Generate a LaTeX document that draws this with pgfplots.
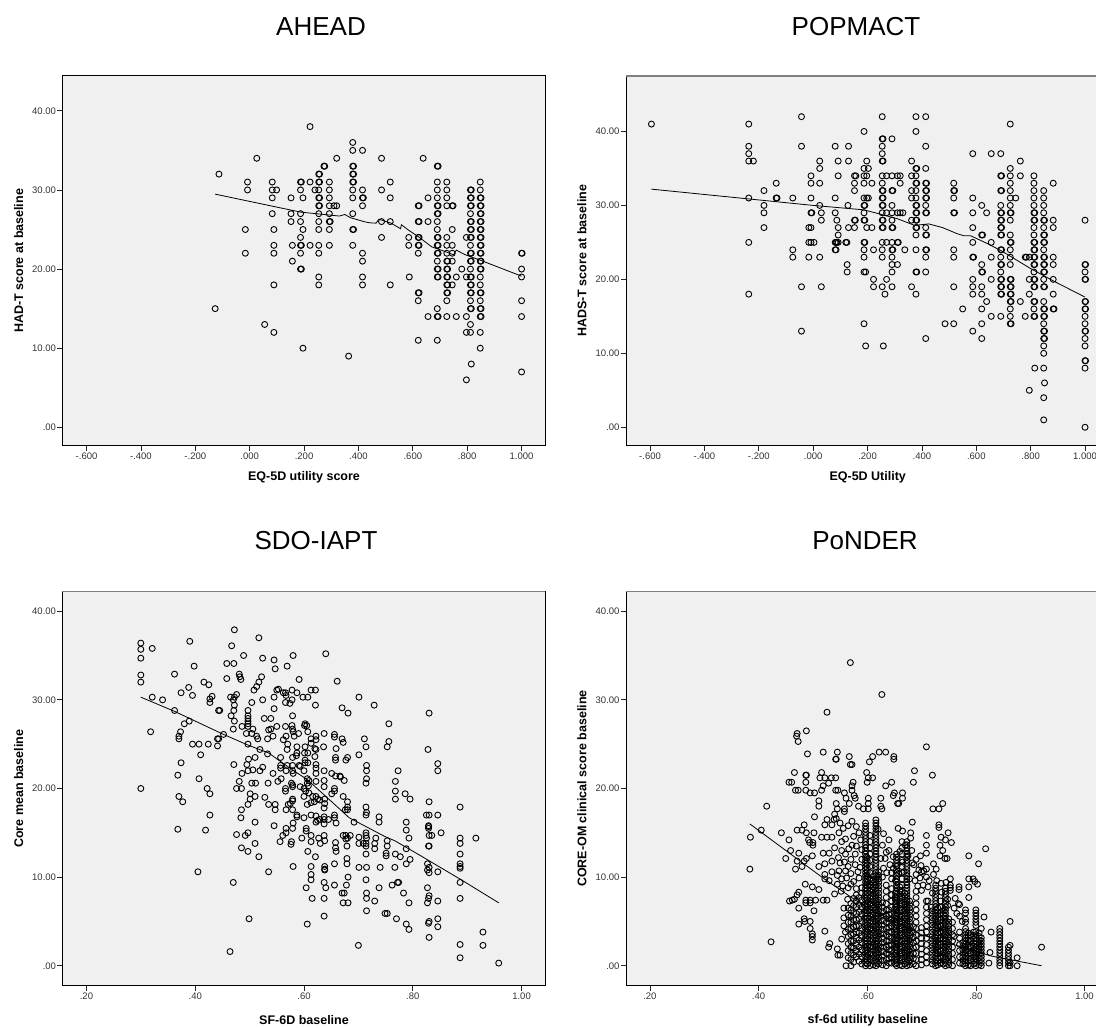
\documentclass[border=0pt]{standalone}
\usepackage{pgfplots}
\pgfplotsset{compat=1.18}
\usepackage{fontspec}
\setmainfont{Liberation Sans}
\definecolor{bgc}{HTML}{F0F0F0}
\pgfplotsset{spss/.style={scale only axis,enlargelimits=false,
 axis background/.style={fill=bgc},
 axis line style={line width=1pt,black},
 tick align=outside,major tick length=5pt,xtick pos=lower,ytick pos=left,
 tick style={black!85,line width=.7pt},
 tick label style={font=\fontsize{9.5}{11}\selectfont,black!80},
 every axis x label/.style={at={(axis description cs:.5,-.0866)},anchor=center,font=\bfseries\fontsize{12.5}{14}\selectfont},
 every axis y label/.style={at={(axis description cs:-.091,.5)},anchor=center,rotate=90,font=\bfseries\fontsize{12.5}{14}\selectfont},
 xticklabel style={yshift=1pt},yticklabel style={xshift=2pt},
 ytick={0,10,20,30,40},yticklabels={.00,10.00,20.00,30.00,40.00}},
 eq/.style={spss,width=483pt,height=369.7pt,xmin=-.6885,xmax=1.088,xtick={-.6,-.4,-.2,0,.2,.4,.6,.8,1},xticklabels={-.600,-.400,-.200,.000,.200,.400,.600,.800,1.000}},
 sf/.style={spss,width=483pt,height=394pt,xmin=.156,xmax=1.044,xtick={.2,.4,.6,.8,1},xticklabels={.20,.40,.60,.80,1.00}},
 pts/.style={only marks,mark=o,mark size=3pt,mark options={line width=.9pt,black}},
 fit/.style={no marks,black,line width=.8pt},
 greybox/.style={after end axis/.code={\draw[line width=1.6pt,black!50] (rel axis cs:0,1)--(rel axis cs:1,1);}}}
\begin{document}
\begin{tikzpicture}
\path[use as bounding box,clip] (0,0) rectangle (1096pt,1028pt);
\node[font=\fontsize{26}{29}\selectfont] at (321pt,1001pt) {AHEAD};
\node[font=\fontsize{26}{29}\selectfont] at (856pt,1001pt) {POPMACT};
\node[font=\fontsize{26}{29}\selectfont] at (316pt,487pt) {SDO-IAPT};
\node[font=\fontsize{26}{29}\selectfont] at (865pt,487pt) {PoNDER};
% ---------- AHEAD
\begin{axis}[eq,at={(62.5pt,582.3pt)},ymin=-2.32,ymax=44.4,xlabel={EQ-5D utility score},ylabel={HAD-T score at baseline}]
\addplot[pts] coordinates {(-.127,15)(-.113,32)(-.016,25)(-.016,22)(-.008,31)(-.008,30)(.026,34)(.055,13)
(.083,31)(.083,30)(.083,29)(.083,27)(.089,25)(.089,23)(.089,22)(.089,18)(.089,12)(.099,30)
(.152,29)(.152,27)(.152,26)(.157,23)(.157,21)
(.187,31)(.19,31)(.187,30)(.187,27)(.187,26)(.187,24)(.187,23)(.19,23)(.187,22)(.187,20)(.19,20)(.196,29)(.196,25)(.196,10)(.222,38)(.222,31)(.222,23)(.24,30)
(.254,32)(.257,32)(.254,31)(.257,31)(.254,30)(.254,29)(.257,29)(.254,28)(.257,28)(.254,27)(.254,26)(.254,25)(.254,23)(.254,22)(.254,19)(.254,18)
(.273,33)(.276,33)(.293,31)(.293,30)(.293,29)(.293,28)(.293,27)(.293,26)(.296,26)(.293,25)(.293,23)(.31,28)(.32,34)(.32,28)
(.364,9)(.379,36)(.379,35)(.379,33)(.382,33)(.379,32)(.382,32)(.379,31)(.382,31)(.379,30)(.379,29)(.379,27)(.379,25)(.382,25)(.379,23)
(.415,35)(.415,30)(.415,29)(.418,29)(.415,28)(.415,22)(.415,21)(.415,19)(.415,18)
(.485,34)(.485,30)(.485,26)(.485,24)(.517,31)(.517,29)(.517,26)(.517,18)
(.585,24)(.585,23)(.587,19)(.62,28)(.623,28)(.62,26)(.623,26)(.62,24)(.623,24)(.62,23)(.623,23)(.62,22)(.62,17)(.623,17)(.62,16)(.62,11)(.638,34)(.656,29)(.656,26)(.656,14)
(.69,33)(.693,33)(.69,31)(.69,30)(.69,29)(.69,28)(.693,28)(.69,27)(.693,27)(.69,26)(.69,25)(.69,24)(.693,24)(.69,23)(.693,23)(.69,22)(.693,22)(.69,21)(.69,20)(.693,20)(.69,19)(.693,19)(.69,15)(.69,14)(.693,14)(.69,11)
(.725,31)(.725,30)(.725,29)(.725,28)(.725,24)(.725,23)(.725,22)(.725,21)(.728,21)(.725,20)(.728,20)(.725,19)(.728,19)(.725,18)(.728,18)(.725,17)(.728,17)(.725,16)(.725,14)
(.745,28)(.748,28)(.745,25)(.745,23)(.745,22)(.745,21)(.745,18)(.76,19)(.76,14)(.78,20)(.797,24)(.797,19)(.797,14)(.797,12)(.797,6)
(.812,30)(.815,30)(.812,29)(.815,29)(.812,28)(.815,28)(.812,27)(.812,26)(.815,26)(.812,25)(.815,25)(.812,24)(.815,24)(.812,23)(.812,22)(.815,22)(.812,21)(.815,21)(.812,20)(.812,19)(.815,19)(.812,18)(.815,18)(.812,17)(.815,17)(.812,16)(.812,15)(.815,15)(.812,13)(.812,12)(.815,8)
(.848,31)(.848,30)(.848,29)(.851,29)(.848,28)(.851,28)(.848,27)(.851,27)(.848,26)(.851,26)(.848,25)(.851,25)(.848,24)(.851,24)(.848,23)(.851,23)(.848,22)(.851,22)(.848,21)(.851,21)(.848,20)(.851,20)(.848,19)(.848,18)(.848,17)(.851,17)(.848,16)(.848,15)(.851,15)(.848,14)(.851,14)(.848,12)(.848,10)
(1,22)(1.002,22)(1,20)(1,19)(1,16)(1,14)(1,7)};
\addplot[fit] coordinates {(-.127,29.47)(.187,27.2)(.33,26.7)(.35,26.9)(.37,26.5)(.42,26)(.44,25.85)(.465,25.8)(.475,26.3)(.52,25.8)(.555,25.1)(.558,25.6)(.585,24.9)(.62,24.1)(.67,22.8)(.72,22.2)(.75,21.8)(.76,22.4)(.79,21.85)(.85,21.1)(1,19.1)};
\end{axis}
% ---------- POPMACT
\begin{axis}[eq,greybox,width=483.5pt,xmax=1.09,at={(626pt,582.3pt)},ymin=-2.49,ymax=47.5,xlabel={EQ-5D Utility},ylabel={HADS-T score at baseline}]
\addplot[pts] coordinates {(-.595,41)(-.237,41)(-.237,38)(-.237,37)(-.237,36)(-.237,31)(-.237,25)(-.237,18)(-.22,36)
(-.181,32)(-.181,30)(-.181,29)(-.181,27)(-.136,33)(-.136,31)(-.133,31)(-.075,31)(-.075,24)(-.075,23)(-.043,42)(-.043,38)(-.043,19)(-.043,13)
(-.016,27)(-.016,25)(-.016,23)(-.008,34)(-.008,33)(-.008,31)(-.008,29)(-.005,29)(-.008,27)(-.008,25)(.003,25)(.024,36)(.024,35)(.024,33)(.024,30)(.024,23)(.03,29)(.03,28)(.03,19)
(.081,38)(.081,31)(.081,29)(.081,25)(.084,25)(.081,24)(.084,24)(.087,28)(.087,25)(.092,36)(.092,34)(.092,27)(.092,26)(.092,25)
(.128,30)(.13,38)(.13,36)(.13,27)(.12,25)(.124,25)(.125,22)(.125,21)(.152,34)(.152,33)(.152,32)(.152,28)(.155,28)(.152,27)(.157,34)
(.187,40)(.187,35)(.187,34)(.187,33)(.187,31)(.187,30)(.19,30)(.187,29)(.187,28)(.19,28)(.187,25)(.19,25)(.187,24)(.187,23)(.187,21)(.187,14)(.193,21)(.193,11)(.197,36)(.197,34)(.197,31)(.197,27)(.203,35)(.203,31)(.216,33)(.216,27)(.222,24)(.222,20)(.222,19)
(.254,42)(.254,39)(.257,39)(.254,38)(.254,37)(.254,36)(.257,36)(.254,34)(.254,33)(.254,32)(.257,32)(.254,31)(.257,31)(.254,30)(.257,30)(.254,29)(.254,28)(.257,28)(.254,27)(.257,27)(.254,25)(.254,24)(.254,23)(.254,19)(.258,11)(.264,18)
(.27,34)(.27,29)(.27,25)(.27,20)(.29,39)(.29,34)(.29,32)(.293,32)(.29,30)(.29,29)(.29,28)(.29,27)(.293,27)(.29,25)(.29,24)(.293,24)(.29,23)(.29,22)(.29,21)(.29,19)
(.31,34)(.31,29)(.31,25)(.313,25)(.31,22)(.32,34)(.32,33)(.32,29)(.33,29)(.337,24)
(.362,36)(.362,34)(.362,32)(.362,31)(.362,28)(.362,19)(.378,42)(.378,40)(.378,35)(.381,35)(.378,34)(.378,33)(.381,33)(.378,32)(.378,31)(.378,30)(.381,30)(.378,29)(.381,29)(.378,28)(.381,28)(.378,27)(.381,27)(.378,26)(.378,24)(.378,21)(.381,21)(.378,18)
(.414,42)(.414,38)(.414,35)(.414,33)(.417,33)(.414,32)(.417,32)(.414,31)(.417,31)(.414,30)(.414,29)(.417,29)(.414,27)(.414,26)(.417,26)(.414,24)(.417,24)(.414,23)(.414,21)(.414,12)
(.485,14)(.517,33)(.517,32)(.52,32)(.517,31)(.517,29)(.52,29)(.517,24)(.517,23)(.517,19)(.517,14)(.55,16)
(.587,37)(.587,31)(.587,29)(.587,27)(.587,25)(.587,23)(.59,23)(.587,20)(.587,19)(.587,18)(.587,13)
(.62,30)(.62,26)(.623,26)(.62,22)(.62,21)(.623,21)(.62,19)(.62,18)(.62,16)(.62,14)(.62,12)(.638,29)(.638,17)(.655,37)(.655,25)(.655,23)(.655,20)(.655,15)
(.69,37)(.69,34)(.693,34)(.69,32)(.693,32)(.69,30)(.69,29)(.693,29)(.69,28)(.693,28)(.69,27)(.693,27)(.69,26)(.693,26)(.69,24)(.693,24)(.69,23)(.69,22)(.693,22)(.69,21)(.69,20)(.693,20)(.69,19)(.693,19)(.69,18)(.693,18)(.69,15)
(.725,41)(.725,35)(.725,34)(.725,33)(.725,32)(.725,31)(.725,30)(.725,29)(.728,29)(.725,28)(.725,26)(.725,25)(.728,25)(.725,24)(.725,23)(.725,22)(.725,20)(.728,20)(.725,19)(.728,19)(.725,18)(.728,18)(.725,17)(.728,17)(.725,16)(.725,15)(.725,14)(.728,14)
(.745,31)(.762,36)(.762,34)(.762,17)(.78,23)(.784,23)(.78,15)(.795,23)(.795,20)(.795,18)(.795,5)
(.812,34)(.812,33)(.812,32)(.812,31)(.812,30)(.812,29)(.815,29)(.812,28)(.815,28)(.812,27)(.812,26)(.812,25)(.815,25)(.812,24)(.815,24)(.812,23)(.815,23)(.812,22)(.815,22)(.812,21)(.812,20)(.815,20)(.812,19)(.815,19)(.812,17)(.815,17)(.812,16)(.812,15)(.815,15)(.815,8)
(.848,32)(.848,31)(.848,30)(.848,29)(.848,28)(.851,28)(.848,27)(.848,26)(.851,26)(.848,25)(.851,25)(.848,24)(.848,23)(.851,23)(.848,22)(.851,22)(.848,21)(.851,21)(.848,20)(.848,19)(.851,19)(.848,17)(.848,16)(.851,16)(.848,15)(.851,15)(.848,14)(.848,13)(.851,13)(.848,12)(.851,12)(.848,11)(.848,10)(.848,8)(.851,6)(.848,4)(.848,1)
(.883,33)(.883,28)(.883,27)(.883,23)(.883,22)(.883,20)(.883,18)(.883,16)(.886,16)
(1,28)(1,22)(1.002,22)(1,21)(1,20)(1.002,20)(1,17)(1.002,17)(1,16)(1.002,16)(1,15)(1,14)(1,13)(1.002,13)(1,12)(1,11)(1,9)(1.002,9)(1,8)(1,0)};
\addplot[fit] coordinates {(-.595,32.2)(0,30)(.187,29.4)(.31,28.2)(.373,27.3)(.425,27.5)(.476,27)(.528,26.2)(.553,25.9)(.579,25.9)(.643,24.8)(.695,23.8)(.798,21.5)(.888,19.7)(1,17.6)};
\end{axis}
% ---------- SDO-IAPT
\begin{axis}[sf,greybox,at={(62.5pt,42.3pt)},ymin=-2.25,ymax=42.2,xlabel={SF-6D baseline},ylabel={Core mean baseline}]
\addplot[pts] coordinates {(.3,36.4)(.3,35.7)(.3,34.7)(.3,32.8)(.3,32)(.321,35.8)(.321,30.3)(.34,30)(.318,26.4)(.3,20)(.39,36.6)(.398,33.8)(.362,32.9)(.388,31.4)(.374,30.8)(.395,30.5)(.362,28.8)(.416,32)(.425,31.7)(.431,30.4)(.427,30.1)(.427,29.7)(.443,28.8)(.445,28.8)(.389,27.6)(.38,27.3)(.373,26.4)(.37,25.9)(.37,25.6)(.395,25)(.407,25)(.424,25)(.41,23.8)(.441,25.6)(.441,24.8)(.452,26.1)(.443,25.6)(.374,22.9)(.368,21.5)(.407,21.1)(.422,20)(.427,19.4)(.37,19.1)(.377,18.5)(.427,17)(.368,15.4)(.419,15.3)(.405,10.6)
(.458,34.1)(.467,36.1)(.472,37.9)(.471,34.1)(.489,35)(.458,32.4)(.481,32.9)(.482,32.6)(.484,32.3)(.465,30.3)(.47,30)(.476,30.6)(.472,30.3)(.472,29.4)(.471,28.8)(.466,28.2)(.472,27.6)(.47,26.7)(.486,27)(.497,28.8)(.497,28.2)(.497,27.9)(.497,27.6)(.497,27.3)(.497,27)(.494,26.2)(.504,29.7)(.504,26.2)(.508,31.1)(.506,26.7)(.513,25.9)(.515,25.6)(.513,31.5)(.517,32)(.522,32.6)(.524,34.7)(.517,37)(.524,30)(.497,25)(.519,24.4)(.527,27.9)(.539,27.9)(.535,26.6)(.539,26.7)(.533,25.6)(.543,25.9)(.533,23.9)(.55,27)(.545,29)(.545,30.3)(.547,33.5)(.545,34.5)(.55,31.1)(.553,31.2)
(.498,23.3)(.51,23.5)(.495,22.7)(.471,22.7)(.497,22)(.506,22.1)(.519,22)(.524,22.4)(.486,21.7)(.481,20.8)(.476,20)(.485,20)(.504,20.6)(.511,20.6)(.534,20.6)(.543,21.7)(.501,19.4)(.501,18.8)(.51,19.1)(.528,19)(.497,18.2)(.535,18.2)(.547,18.2)(.547,17.6)(.485,17.6)(.484,16.7)(.51,16.2)(.545,15.8)(.476,14.8)(.492,14.7)(.497,15)(.485,13.3)(.497,12.9)(.51,13.8)(.517,12.3)(.535,10.6)(.47,9.4)(.499,5.3)(.464,1.6)
(.569,33.8)(.58,35)(.591,32.3)(.64,35.2)(.661,32.1)(.613,31.1)(.621,31.1)(.562,30.8)(.566,30.8)(.567,30.5)(.578,31.1)(.587,30.8)(.578,30)(.598,30.3)(.607,30.3)(.621,29.4)(.566,29.7)(.574,29.6)(.579,28.2)(.566,27)(.578,27.1)(.579,26.7)(.601,27.1)(.602,27.3)(.605,27.1)(.607,26.4)(.59,26.2)(.58,26.4)(.582,25.9)(.562,25.5)(.567,25.9)(.57,25)(.569,24.4)(.587,24.7)(.587,24)(.586,23.7)(.602,24.7)(.607,24)(.613,25.6)(.613,25.1)(.622,25.9)(.622,25.5)(.62,24.5)(.622,24.4)(.62,23.6)(.601,24)(.602,23.2)(.602,22.9)(.607,22.9)(.557,23.5)(.579,23.5)(.557,22.6)(.557,22.3)(.569,22.6)(.579,22.6)(.591,22.6)(.567,22)(.579,22)(.58,21.7)(.552,20.8)(.558,21.1)(.593,22.5)(.6,22)(.622,22.7)(.622,22.3)(.622,21.7)
(.606,21.1)(.609,20.9)(.606,20.6)(.608,20.3)(.622,20.8)(.566,20)(.566,19.7)(.577,20.6)(.579,20.4)(.579,20.2)(.593,20.2)(.6,20)(.603,19.7)(.6,19.1)(.609,19.5)(.606,18.2)(.613,18.4)(.616,19.1)(.622,19.1)(.625,18.8)(.619,18.5)(.629,18.7)(.579,18.8)(.579,18.6)(.571,18.2)(.575,18.3)(.567,17.6)(.579,17.6)(.587,17)(.587,16.8)(.6,16.7)(.613,17)(.622,16.9)(.629,16.5)(.622,16.2)(.625,16.4)(.58,16.1)(.567,15.5)(.579,15.5)(.567,15)(.561,14.7)(.556,14)(.604,15.5)(.604,15.2)(.613,14.7)(.596,14.4)(.613,14)(.577,14)(.576,13.7)(.607,12.9)(.621,12.3)(.58,11.2)(.613,11.2)(.613,10.3)(.613,9.7)(.604,8.8)(.615,7.6)(.606,4.7)
(.637,26.2)(.636,24.7)(.637,22)(.637,20.9)(.637,20.2)(.638,18.8)(.638,18.3)(.637,17.8)(.637,16.8)(.637,16.5)(.637,16)(.645,16.5)(.637,14.7)(.627,14.4)(.63,13.8)(.638,14.1)(.638,11.2)(.638,10.9)(.638,10.8)(.637,9.4)(.64,8.8)(.637,7.6)(.637,5.6)(.656,26.1)(.656,25.8)(.659,24.5)(.658,23.5)(.658,23.2)(.651,21.7)(.658,21.4)(.666,21.4)(.656,20)(.656,19.7)(.651,19.4)(.656,17)(.656,16.7)(.659,16.1)(.658,13.9)(.658,13.3)(.659,12.9)(.656,11.5)(.656,9.1)
(.67,29.1)(.681,28.5)(.67,25.6)(.672,25.2)(.68,23.5)(.677,23.2)(.667,21.3)(.674,20.9)(.672,19.1)(.68,18.5)(.68,17.9)(.676,17.6)(.68,17.6)(.672,14.7)(.677,14.7)(.68,14.4)(.685,14.7)(.677,14.3)(.679,13.5)(.679,12.1)(.679,11.5)(.681,10)(.678,9.1)(.67,8.2)(.674,8.2)(.672,7.1)(.681,7.1)(.692,16.2)(.701,30.3)(.701,23.8)(.701,14.5)(.701,13.8)(.701,11.1)(.7,2.3)
(.711,25.6)(.714,24.7)(.715,22.6)(.715,22)(.715,21.1)(.714,20.6)(.714,17.9)(.715,17.3)(.714,17)(.714,15)(.714,14.7)(.715,14.4)(.709,13.8)(.714,13.8)(.714,13.5)(.714,12.6)(.715,11.1)(.714,9.7)(.715,8.2)(.715,7.6)(.715,6.2)(.729,29.4)(.738,16.8)(.738,16.2)(.732,14.4)(.73,13.8)(.73,13.2)(.74,11.1)(.738,8.8)(.73,7.3)
(.756,27.3)(.756,25.3)(.753,24.7)(.753,14.1)(.753,13.5)(.751,12.7)(.751,12.4)(.768,12.6)(.777,12.3)(.767,11.1)(.762,9.1)(.772,9.4)(.774,9.4)(.749,5.9)(.753,5.9)(.77,5.3)(.773,22)(.768,20.8)(.768,19.7)(.768,18.8)(.786,19.4)(.795,18.8)(.788,16.2)(.788,15.3)(.793,14.4)(.788,13.2)(.795,12)(.788,11.5)(.783,8.2)(.793,7.1)(.788,4.7)(.793,4.1)
(.83,28.5)(.828,24.4)(.846,22.8)(.846,22)(.83,18.5)(.825,17)(.83,17)(.846,17)(.829,15.8)(.829,15.7)(.829,15.5)(.83,14.7)(.835,14.7)(.852,15)(.829,13.5)(.83,13.5)(.827,11.5)(.83,11.1)(.827,10.8)(.83,10.5)(.846,10.6)(.827,8.8)(.83,7.9)(.829,7.6)(.827,7.1)(.846,7.3)(.83,5)(.829,4.8)(.846,5.3)(.846,4.4)(.83,3.2)
(.887,17.9)(.887,14.4)(.887,13.8)(.887,12.6)(.887,11.5)(.887,11.2)(.887,11)(.916,14.4)(.887,9.4)(.887,7.6)(.887,2.4)(.887,.9)(.929,3.8)(.929,2.3)(.958,.3)};
\addplot[fit] coordinates {(.3,30.3)(.362,28.7)(.452,26.1)(.497,24.9)(.535,24)(.574,22.3)(.606,21)(.651,18.5)(.683,16.7)(.748,14.6)(.767,14.1)(.812,12.5)(.889,9.7)(.958,7.1)};
\end{axis}
% ---------- PoNDER
\begin{axis}[sf,greybox,width=483.5pt,xmax=1.046,at={(626pt,42.3pt)},ymin=-2.25,ymax=42.2,xlabel={sf-6d utility baseline},ylabel={CORE-OM clinical score baseline}]
\addplot[pts] coordinates {(.569,34.2)(.627,30.6)(.526,28.6)(.488,26.5)(.471,26.2)(.47,25.9)(.473,25.3)(.49,23.9)(.519,24.1)(.545,24.1)(.542,23.3)(.543,23.3)(.567,23.6)(.569,22.7)(.572,22.7)(.622,24.1)(.634,24.1)(.61,23.6)(.604,23)(.649,23.6)(.649,23.3)(.709,24.7)
(.466,21.8)(.487,21.5)(.488,21.5)(.487,20.7)(.456,20.7)(.461,20.7)(.516,21.8)(.513,21.2)(.522,21.2)(.534,21.2)(.542,21.2)(.599,21.8)(.602,21.2)(.61,21.2)(.6,20.7)(.634,20.3)(.645,20.7)(.574,20.7)(.572,20.3)(.687,22)(.685,20.7)(.72,21.5)
(.468,19.8)(.473,19.8)(.487,19.8)(.495,19.5)(.503,19.5)(.516,19.8)(.519,20.3)(.529,20.6)(.542,19.8)(.546,19.8)(.558,19.5)(.561,18.9)(.572,19.8)(.576,19.2)(.578,18.9)(.567,18.3)(.65,19.5)(.648,19.2)(.665,19.5)(.665,18.9)(.658,18.3)(.656,18.3)(.415,18)(.511,18.6)(.511,18)(.503,16.8)(.739,18.3)(.732,17.7)(.721,17.7)(.625,18.9)(.625,18)(.627,17.7)(.584,18)(.593,17.7)(.602,18.9)(.602,18.3)(.602,17.7)(.543,18.3)(.545,17.7)(.54,17.1)(.558,17.7)(.558,17.4)
(.405,15.3)(.442,15)(.385,14.5)(.456,14.2)(.459,13)(.45,12.1)(.474,12.7)(.384,10.9)(.484,15.9)(.471,15.3)(.48,15.3)(.488,15)(.502,15)(.492,14.2)(.494,13.9)(.5,13.9)(.5,13.6)(.516,14.5)(.526,14.5)(.535,14.5)(.526,16.5)(.522,15.9)(.539,16.5)(.535,15.9)(.519,12.7)(.499,12.4)(.488,12.1)(.484,11.8)(.471,11.8)(.48,11.2)(.468,10.9)(.511,11.2)(.522,11.5)(.522,10.3)(.522,9.8)
(.486,9.2)(.499,8.9)(.511,8.6)(.474,8.3)(.471,8)(.466,7.5)(.457,7.3)(.462,7.4)(.487,7.4)(.495,7.4)(.505,7.4)(.519,7.4)(.526,7.4)(.487,7.1)(.495,7.1)(.502,6.2)(.474,6.5)(.484,5.3)(.485,5)(.474,4.7)(.495,5)(.495,4.2)(.499,3.6)(.499,3.3)(.499,2.9)(.423,2.7)(.522,3.9)(.531,2.5)(.529,2.1)(.545,1.9)(.55,1.2)(.546,1.2)(.561,0)
(.709,14.7)(.709,13.6)(.709,12.7)(.698,12.4)(.699,11.3)(.704,10.7)(.709,10.9)(.709,10)(.732,15.9)(.732,15.6)(.749,15)(.736,14.5)(.744,14.2)(.755,13.9)(.734,13.6)(.739,13)(.734,12.4)(.743,12.1)(.747,12.1)(.722,11.5)(.727,10.9)(.722,10.3)(.787,12.4)(.818,13.2)(.805,11.5)(.787,9.8)(.795,9.8)(.798,9.5)(.803,9.2)(.787,8.9)(.769,8.9)(.769,8.6)(.787,7.7)(.753,9.8)(.753,9.1)(.753,8.8)(.753,8.5)(.768,7)(.76,6.5)(.77,5.6)(.775,5)(.815,5.5)(.828,3.8)(.826,1.5)(.863,5)(.824,.3)(.876,.9)(.876,0)(.921,2.1)
(.54,13.3)(.547,12.2)(.53,12.7)(.55,11.6)(.535,11.8)(.553,14)(.56,14.3)(.566,13.2)(.575,14.6)(.56,12.6)(.57,12)(.58,13.5)(.578,11.4)(.548,10.7)(.56,10.7)(.57,10.4)(.585,15)(.59,13.1)(.587,11.1)(.535,10.6)(.53,9.6)(.545,9.2)(.555,9)(.565,8.8)(.575,9.5)(.585,9.9)(.54,8.1)(.552,8.4)(.564,7.5)
(.543,16.6)(.55,16.1)(.556,15.5)(.548,15)(.565,15.8)(.572,16.3)(.58,15.7)(.588,14.2)(.553,13)(.558,11.7)(.565,11.2)(.572,13.6)(.578,12.6)(.583,10.6)(.59,12)(.545,10.2)(.553,9.8)(.562,9.9)(.57,9.2)(.58,8.7)(.59,8.8)
(.62,15.4)(.63,14.9)(.628,13.6)(.64,14.2)(.635,12.8)(.625,12.1)(.642,11.4)(.63,11)(.648,12.3)(.655,11.3)(.66,12.9)(.645,10.5)(.652,9.6)(.665,11.7)(.668,10.6)(.675,12.4)(.682,13)(.683,16.2)(.68,15)(.68,14.4)(.69,12)(.686,11.4)(.695,10.8)(.678,9.8)(.688,9.6)(.697,9.9)(.665,15.2)(.657,15.5)(.67,13.6)(.7,8.5)(.712,8.9)(.712,7.3)(.718,6.6)(.72,8.2)(.736,9.3)(.748,7.5)(.748,6.8)(.76,3.3)
(.64,13)(.633,12.1)(.636,10.5)(.628,10)(.648,11)(.658,10.4)(.683,11.6)(.69,10.3)(.7,10.6)(.703,9.1)(.693,9)(.714,9.6)(.728,9.6)(.737,8.3)(.745,9.4)(.762,7.6)(.77,6.9)(.765,5.9)
(.57,0)(.57,.7)(.57,1.4)(.57,2.1)(.57,2.8)(.57,3.5)(.57,4.2)(.57,4.9)(.57,5.6)(.57,6.3)(.57,7)(.58,1)(.58,1.7)(.58,2.4)(.58,3.1)(.58,3.8)(.58,4.5)(.58,5.2)(.58,5.9)(.58,6.6)(.58,7.3)(.58,8)(.553,3)(.557,4.5)(.557,5.4)(.557,6.5)(.56,3.8)
(.565,.9)(.565,1.7)(.565,2.5)(.565,3.3)(.565,4.1)(.565,4.9)(.565,5.7)(.565,6.5)(.575,.4)(.575,1.2)(.575,2)(.575,2.8)(.575,3.6)(.575,4.4)(.575,5.2)(.575,6)(.575,6.8)(.575,7.6)(.585,.5)(.585,1.3)(.585,2.1)(.585,2.9)(.585,3.7)(.585,4.5)(.585,5.3)(.585,6.1)(.585,6.9)(.585,7.7)(.59,.2)(.59,1)(.59,1.8)(.59,2.6)(.59,3.4)(.59,4.2)(.59,5)(.59,5.8)(.59,6.6)(.59,7.4)(.59,8.2)
(.605,0)(.605,.7)(.605,1.4)(.605,2.1)(.605,2.8)(.605,3.5)(.605,4.2)(.605,4.9)(.605,5.6)(.605,6.3)(.605,7)(.605,7.7)(.605,8.4)(.605,9.1)(.605,9.8)(.605,10.5)(.605,11.2)(.605,11.9)(.605,12.6)(.605,13.3)(.605,14)(.605,14.7)
(.6,.2)(.6,.6)(.6,1)(.6,1.4)(.6,1.8)(.6,2.2)(.6,2.6)(.6,3)(.6,3.4)(.6,3.8)(.6,4.2)(.6,4.6)(.6,5)(.6,5.4)(.6,5.8)(.6,6.2)(.6,6.6)(.6,7)(.6,7.4)(.6,7.8)(.6,8.2)(.6,8.6)(.6,9)(.6,9.4)(.6,9.8)(.6,10.2)(.6,10.6)(.6,11)(.6,11.4)(.6,11.8)(.6,12.2)
(.611,.1)(.611,.5)(.611,.9)(.611,1.3)(.611,1.7)(.611,2.1)(.611,2.5)(.611,2.9)(.611,3.3)(.611,3.7)(.611,4.1)(.611,4.5)(.611,4.9)(.611,5.3)(.611,5.7)(.611,6.1)(.611,6.5)(.611,6.9)(.611,7.3)(.611,7.7)(.611,8.1)(.611,8.5)(.611,8.9)(.611,9.3)(.611,9.7)(.611,10.1)
(.621,.2)(.621,.6)(.621,1)(.621,1.4)(.621,1.8)(.621,2.2)(.621,2.6)(.621,3)(.621,3.4)(.621,3.8)(.621,4.2)(.621,4.6)(.621,5)(.621,5.4)(.621,5.8)(.621,6.2)(.621,6.6)(.621,7)(.621,7.4)(.621,7.8)(.621,8.2)(.621,8.6)(.621,9)(.621,9.4)(.621,9.8)(.621,10.2)(.621,10.6)
(.628,.1)(.628,.6)(.628,1.1)(.628,1.6)(.628,2.1)(.628,2.6)(.628,3.1)(.628,3.6)(.628,4.1)(.628,4.6)(.628,5.1)(.628,5.6)(.628,6.1)(.628,6.6)(.628,7.1)(.64,.3)(.64,.8)(.64,1.3)(.64,1.8)(.64,2.3)(.64,2.8)(.64,3.3)(.64,3.8)(.64,4.3)(.64,4.8)(.64,5.3)(.64,5.8)(.64,6.3)
(.635,0)(.635,.7)(.635,1.4)(.635,2.1)(.635,2.8)(.635,3.5)(.635,4.2)(.635,4.9)(.635,5.6)(.635,6.3)(.635,7)(.635,7.7)(.635,8.4)(.635,9.1)(.645,.3)(.645,1)(.645,1.7)(.645,2.4)(.645,3.1)(.645,3.8)(.645,4.5)(.645,5.2)(.645,5.9)(.645,6.6)(.645,7.3)(.645,8)(.645,8.7)(.645,9.8)
(.652,.2)(.652,.6)(.652,1)(.652,1.4)(.652,1.8)(.652,2.2)(.652,2.6)(.652,3)(.652,3.4)(.652,3.8)(.652,4.2)(.652,4.6)(.652,5)(.652,5.4)(.652,5.8)(.652,6.2)(.652,6.6)(.652,7)(.652,7.4)(.652,7.8)(.652,8.2)
(.66,.1)(.66,.5)(.66,.9)(.66,1.3)(.66,1.7)(.66,2.1)(.66,2.5)(.66,2.9)(.66,3.3)(.66,3.7)(.66,4.1)(.66,4.5)(.66,4.9)(.66,5.3)(.66,5.7)(.66,6.1)(.66,6.5)(.66,6.9)(.66,7.3)(.66,7.7)(.66,8.1)(.66,8.5)(.66,8.9)
(.664,0)(.664,.7)(.664,1.4)(.664,2.1)(.664,2.8)(.664,3.5)(.664,4.2)(.664,4.9)(.664,5.6)(.664,6.3)(.664,7)(.664,7.7)(.664,8.4)(.664,9.1)(.664,9.8)(.664,10.5)(.664,11.2)(.664,11.9)(.664,12.6)(.664,13.3)(.664,14)
(.669,.2)(.669,.6)(.669,1)(.669,1.4)(.669,1.8)(.669,2.2)(.669,2.6)(.669,3)(.669,3.4)(.669,3.8)(.669,4.2)(.669,4.6)(.669,5)(.669,5.4)(.669,5.8)(.669,6.2)(.669,6.6)(.669,7)(.669,7.4)(.669,7.8)(.669,8.2)
(.678,.1)(.678,.5)(.678,.9)(.678,1.3)(.678,1.7)(.678,2.1)(.678,2.5)(.678,2.9)(.678,3.3)(.678,3.7)(.678,4.1)(.678,4.5)(.678,4.9)(.678,5.3)(.678,5.7)(.678,6.1)(.678,6.5)(.678,6.9)(.678,7.3)
(.685,.2)(.685,.8)(.685,1.4)(.685,2)(.685,2.6)(.685,3.2)(.685,3.8)(.685,4.4)(.7,.1)(.7,.7)(.7,1.3)(.7,1.9)(.7,2.5)(.7,3.1)(.7,3.7)(.7,4.3)
(.69,0)(.69,.7)(.69,1.4)(.69,2.1)(.69,2.8)(.69,3.5)(.69,4.2)(.69,4.9)(.69,5.6)(.69,6.3)(.69,7)(.69,7.7)(.69,8.4)(.709,.3)(.709,1)(.709,1.7)(.709,2.4)(.709,3.1)(.709,3.8)(.709,4.5)(.709,5.2)(.709,5.9)(.709,6.6)(.709,7.3)(.735,.3)(.735,1)(.735,1.7)(.735,2.4)(.735,3.1)(.735,3.8)(.735,4.5)(.735,5.2)(.735,5.9)(.735,6.6)(.735,7.3)(.757,0)(.757,.7)(.757,1.4)(.757,2.1)(.757,2.8)(.757,3.5)(.757,4.2)(.757,4.9)(.77,.3)(.77,1)(.77,1.7)(.77,2.4)(.77,3.1)(.77,3.8)(.79,0)(.79,.7)(.79,1.4)(.79,2.1)(.79,2.8)(.79,3.5)
(.72,.2)(.72,.6)(.72,1)(.72,1.4)(.72,1.8)(.72,2.2)(.72,2.6)(.72,3)(.72,3.4)(.72,3.8)(.72,4.2)(.72,4.6)(.72,5)(.72,5.4)(.72,5.8)(.72,6.2)
(.73,.1)(.73,.5)(.73,.9)(.73,1.3)(.73,1.7)(.73,2.1)(.73,2.5)(.73,2.9)(.73,3.3)(.73,3.7)(.73,4.1)(.73,4.5)(.73,4.9)(.73,5.3)(.73,5.7)(.73,6.1)(.73,6.5)
(.74,.2)(.74,.6)(.74,1)(.74,1.4)(.74,1.8)(.74,2.2)(.74,2.6)(.74,3)(.74,3.4)(.74,3.8)(.74,4.2)(.74,4.6)(.74,5)(.74,5.4)(.74,5.8)(.74,6.2)
(.75,.1)(.75,.5)(.75,.9)(.75,1.3)(.75,1.7)(.75,2.1)(.75,2.5)(.75,2.9)(.75,3.3)(.75,3.7)(.75,4.1)(.75,4.5)(.75,4.9)(.75,5.3)
(.776,.2)(.776,.6)(.776,1)(.776,1.4)(.776,1.8)(.776,2.2)(.776,2.6)(.786,.1)(.786,.5)(.786,.9)(.786,1.3)(.786,1.7)(.786,2.1)(.786,2.5)(.786,2.9)(.786,3.3)(.786,3.7)(.796,.2)(.796,.6)(.796,1)(.796,1.4)(.796,1.8)(.796,2.2)(.796,2.6)(.796,3)(.796,3.4)(.796,3.8)(.806,.1)(.806,.5)(.806,.9)(.806,1.3)(.806,1.7)(.806,2.1)(.806,2.5)(.806,2.9)(.806,3.3)(.806,3.7)
(.597,0)(.597,.35)(.597,.7)(.597,1.05)(.597,1.4)(.597,1.75)(.597,2.1)(.597,2.45)(.597,2.8)(.597,3.15)(.597,3.5)(.597,3.85)(.597,4.2)(.597,4.55)(.597,4.9)(.597,5.25)(.597,5.6)(.597,5.95)(.597,6.3)(.597,6.65)(.597,7)(.597,7.35)(.597,7.7)(.597,8.05)(.597,8.4)(.597,8.75)(.597,9.1)(.597,9.45)(.597,9.8)(.597,10.15)(.597,10.5)(.597,10.85)(.597,11.2)(.597,11.55)(.597,11.9)(.597,12.25)(.597,12.6)(.597,12.95)(.597,13.3)(.597,13.65)(.597,14)(.597,14.35)(.597,14.7)(.597,15.05)(.597,15.4)(.597,15.75)(.597,16.1)
(.616,0)(.616,.35)(.616,.7)(.616,1.05)(.616,1.4)(.616,1.75)(.616,2.1)(.616,2.45)(.616,2.8)(.616,3.15)(.616,3.5)(.616,3.85)(.616,4.2)(.616,4.55)(.616,4.9)(.616,5.25)(.616,5.6)(.616,5.95)(.616,6.3)(.616,6.65)(.616,7)(.616,7.35)(.616,7.7)(.616,8.05)(.616,8.4)(.616,8.75)(.616,9.1)(.616,9.45)(.616,9.8)(.616,10.15)(.616,10.5)(.616,10.85)(.616,11.2)(.616,11.55)(.616,11.9)(.616,12.25)(.616,12.6)(.616,12.95)(.616,13.3)(.616,13.65)(.616,14)(.616,14.35)(.616,14.7)(.616,15.05)(.616,15.4)(.616,15.75)(.616,16.1)(.616,16.45)
(.654,0)(.654,.35)(.654,.7)(.654,1.05)(.654,1.4)(.654,1.75)(.654,2.1)(.654,2.45)(.654,2.8)(.654,3.15)(.654,3.5)(.654,3.85)(.654,4.2)(.654,4.55)(.654,4.9)(.654,5.25)(.654,5.6)(.654,5.95)(.654,6.3)(.654,6.65)(.654,7)(.654,7.35)(.654,7.7)(.654,8.05)(.654,8.4)(.654,8.75)(.654,9.1)(.654,9.45)(.654,9.8)(.654,10.15)(.654,10.5)(.654,10.85)(.654,11.2)(.654,11.55)(.654,11.9)(.654,12.25)(.654,12.6)
(.673,0)(.673,.35)(.673,.7)(.673,1.05)(.673,1.4)(.673,1.75)(.673,2.1)(.673,2.45)(.673,2.8)(.673,3.15)(.673,3.5)(.673,3.85)(.673,4.2)(.673,4.55)(.673,4.9)(.673,5.25)(.673,5.6)(.673,5.95)(.673,6.3)(.673,6.65)(.673,7)(.673,7.35)(.673,7.7)(.673,8.05)(.673,8.4)(.673,8.75)(.673,9.1)(.673,9.45)(.673,9.8)(.673,10.15)(.673,10.5)(.673,10.85)(.673,11.2)(.673,11.55)(.673,11.9)(.673,12.25)(.673,12.6)(.673,12.95)(.673,13.3)(.673,13.65)(.673,14)
(.726,0)(.726,.35)(.726,.7)(.726,1.05)(.726,1.4)(.726,1.75)(.726,2.1)(.726,2.45)(.726,2.8)(.726,3.15)(.726,3.5)(.726,3.85)(.726,4.2)(.726,4.55)(.726,4.9)(.726,5.25)(.726,5.6)(.726,5.95)(.726,6.3)(.726,6.65)(.726,7)(.726,7.35)(.726,7.7)(.726,8.05)(.726,8.4)(.726,8.75)(.726,9.1)
(.744,0)(.744,.35)(.744,.7)(.744,1.05)(.744,1.4)(.744,1.75)(.744,2.1)(.744,2.45)(.744,2.8)(.744,3.15)(.744,3.5)(.744,3.85)(.744,4.2)(.744,4.55)(.744,4.9)(.744,5.25)(.744,5.6)(.744,5.95)(.744,6.3)(.744,6.65)(.744,7)(.744,7.35)(.744,7.7)(.744,8.05)(.744,8.4)(.744,8.75)
(.781,0)(.781,.35)(.781,.7)(.781,1.05)(.781,1.4)(.781,1.75)(.781,2.1)(.781,2.45)(.781,2.8)(.781,3.15)(.781,3.5)(.781,3.85)(.781,4.2)(.781,4.9)(.781,5.25)(.781,5.95)(.781,6.3)
(.8,0)(.8,.35)(.8,.7)(.8,1.05)(.8,1.4)(.8,1.75)(.8,2.1)(.8,2.45)(.8,2.8)(.8,3.15)(.8,3.5)(.8,3.85)(.8,4.55)(.8,4.9)(.8,5.25)(.8,5.6)(.8,5.95)(.8,6.3)
(.81,0)(.81,.35)(.81,.7)(.81,1.05)(.81,1.4)(.81,1.75)(.81,2.1)(.81,2.45)(.81,2.8)(.81,3.15)(.81,4.2)
(.844,0)(.844,.35)(.844,.7)(.844,1.05)(.844,1.4)(.844,1.75)(.844,2.1)(.844,2.45)(.844,2.8)(.844,3.15)(.844,3.5)(.844,3.85)(.844,4.2)
(.86,0)(.86,.35)(.86,.7)(.86,1.05)(.86,1.4)(.86,1.75)(.86,2.1)(.863,0)(.863,.35)(.863,2.3)};
\addplot[fit] coordinates {(.384,16)(.521,9.8)(.6,6.5)(.7,3.5)(.828,1.1)(.921,0)};
\end{axis}
\end{tikzpicture}
\end{document}
